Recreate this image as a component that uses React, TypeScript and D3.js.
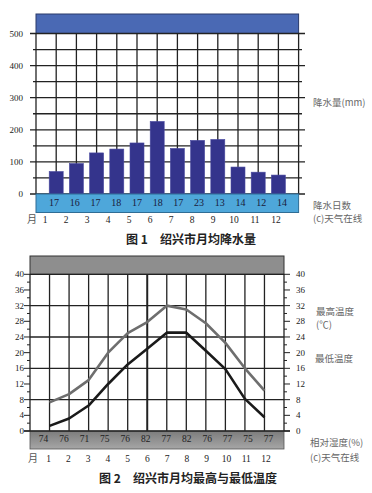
import React from "react";
import * as d3 from "d3";

// 图1 降水
const months = [1, 2, 3, 4, 5, 6, 7, 8, 9, 10, 11, 12];
const rainMM = [70, 95, 128, 140, 159, 226, 142, 167, 170, 84, 68, 59];
const rainDays = [17, 16, 17, 18, 17, 18, 17, 23, 13, 14, 12, 14];
const rainTicks = [0, 100, 200, 300, 400, 500];

// 图2 温度
const tempHigh = [7.3, 9.4, 13, 20, 25, 27.8, 32, 31, 27.5, 22.5, 16, 10.3];
const tempLow = [1.3, 3.2, 6.5, 12, 17, 21, 25.1, 25.1, 20.5, 15.8, 8.2, 3.5];
const humidity = [74, 76, 71, 75, 76, 82, 77, 82, 76, 77, 75, 77];
const tempTicks = [0, 4, 8, 12, 16, 20, 24, 28, 32, 36, 40];

const serif = "'Liberation Serif', 'DejaVu Serif', serif";
const cjk = "'Noto Sans CJK SC', sans-serif";

const App = () => {
  // chart 1 scales
  const x1 = d3.scaleLinear().domain([0, 13]).range([36, 298.6]);
  const y1 = d3.scaleLinear().domain([0, 500]).range([194, 33.5]);
  const dayX = d3.scaleLinear().domain([1, 12]).range([54, 282]);
  const mon1X = d3.scaleLinear().domain([1, 12]).range([45, 276]);
  const grid1 = d3.range(0, 501, 50);

  // chart 2 scales
  const x2 = d3.scaleLinear().domain([0, 13]).range([30, 284]);
  const y2 = d3.scaleLinear().domain([0, 40]).range([431, 274.3]);
  const humX = d3.scaleLinear().domain([1, 12]).range([43.5, 268.5]);
  const mon2X = d3.scaleLinear().domain([1, 12]).range([48.5, 266]);
  const minor2 = d3.range(0, 41, 2);

  const line = d3
    .line<number>()
    .x((_, i) => x2(i + 1))
    .y((d) => y2(d));

  return (
    <svg
      width={372}
      height={493}
      style={{ position: "absolute", left: 0, top: 0, background: "#fff" }}
    >
      {/* ---------- 图1 ---------- */}
      <rect x={x1(0)} y={14} width={x1(13) - x1(0)} height={y1(500) - 14} fill="#4a69b4" stroke="#2a3a6a" strokeWidth={1} />
      {grid1.map((v) => (
        <line
          key={"h" + v}
          x1={v % 100 === 0 ? 30 : 33}
          x2={v % 100 === 0 ? 305 : 302}
          y1={y1(v)}
          y2={y1(v)}
          stroke="#222"
          strokeWidth={1.3}
        />
      ))}
      {d3.range(0, 14).map((k) => (
        <line key={"v" + k} x1={x1(k)} x2={x1(k)} y1={y1(500)} y2={y1(0)} stroke="#222" strokeWidth={1.3} />
      ))}
      {rainMM.map((v, i) => (
        <rect
          key={"b" + i}
          x={x1(i + 1) - 7}
          y={y1(v)}
          width={14}
          height={y1(0) - y1(v)}
          fill="#34348c"
          stroke="#4a4aa0"
          strokeWidth={0.6}
        />
      ))}
      <rect x={x1(0)} y={y1(0)} width={x1(13) - x1(0)} height={18.5} fill="#4ea7da" stroke="#2f6d95" strokeWidth={1} />
      {rainDays.map((d, i) => (
        <text key={"d" + i} x={dayX(i + 1)} y={206} fontSize={10} fontFamily={serif} textAnchor="middle" fill="#1a1a3a">
          {d}
        </text>
      ))}
      {rainTicks.map((v) => (
        <text key={"t" + v} x={23} y={y1(v) + 3} fontSize={9} fontFamily={serif} textAnchor="end" fill="#222">
          {v}
        </text>
      ))}
      <text x={32} y={223} fontSize={10} fontFamily={cjk} textAnchor="middle" fill="#555">月</text>
      {months.map((m) => (
        <text key={"m1" + m} x={mon1X(m)} y={223} fontSize={9.5} fontFamily={serif} textAnchor="middle" fill="#222">
          {m}
        </text>
      ))}
      <text x={313} y={106} fontSize={9.5} fontFamily={cjk} fill="#666">降水量(mm)</text>
      <text x={313} y={209} fontSize={9.5} fontFamily={cjk} fill="#666">降水日数</text>
      <text x={313} y={221.5} fontSize={9.5} fontFamily={cjk} fill="#666">(c)天气在线</text>
      <text x={191} y={243.5} fontSize={12} fontWeight="bold" fontFamily={cjk} textAnchor="middle" fill="#222">
        图 1　绍兴市月均降水量
      </text>

      {/* ---------- 图2 ---------- */}
      <defs>
        <linearGradient id="humG" x1="0" y1="0" x2="0" y2="1">
          <stop offset="0%" stopColor="#7c7c7c" />
          <stop offset="100%" stopColor="#a6a6a6" />
        </linearGradient>
      </defs>
      <rect x={x2(0)} y={256} width={x2(13) - x2(0)} height={y2(40) - 256} fill="#8e8e8e" stroke="#333" strokeWidth={1} />
      {[8, 16, 24, 32, 40].map((v) => (
        <line key={"h2" + v} x1={x2(0)} x2={x2(13)} y1={y2(v)} y2={y2(v)} stroke="#222" strokeWidth={1.3} />
      ))}
      {d3.range(0, 14).map((k) => (
        <line
          key={"v2" + k}
          x1={x2(k)}
          x2={x2(k)}
          y1={y2(40)}
          y2={y2(0)}
          stroke="#222"
          strokeWidth={k === 6 ? 2 : 1.3}
        />
      ))}
      {minor2.map((v) => (
        <g key={"mt" + v}>
          <line x1={x2(0) - (v % 4 === 0 ? 6 : 3)} x2={x2(0)} y1={y2(v)} y2={y2(v)} stroke="#222" strokeWidth={1} />
          <line x1={x2(13)} x2={x2(13) + (v % 4 === 0 ? 6 : 3)} y1={y2(v)} y2={y2(v)} stroke="#222" strokeWidth={1} />
        </g>
      ))}
      {tempTicks.map((v) => (
        <g key={"tt" + v}>
          <text x={24} y={y2(v) + 3} fontSize={9} fontFamily={serif} textAnchor="end" fill="#222">{v}</text>
          <text x={296} y={y2(v) + 3} fontSize={9} fontFamily={serif} fill="#222">{v}</text>
        </g>
      ))}
      <path d={line(tempHigh) ?? ""} fill="none" stroke="#6e6e6e" strokeWidth={2.6} strokeLinejoin="round" />
      <path d={line(tempLow) ?? ""} fill="none" stroke="#1a1a1a" strokeWidth={2.6} strokeLinejoin="round" />
      <rect x={x2(0)} y={y2(0)} width={x2(13) - x2(0)} height={18} fill="url(#humG)" stroke="#555" strokeWidth={0.8} />
      <line x1={24} x2={290} y1={y2(0)} y2={y2(0)} stroke="#222" strokeWidth={1.5} />
      {humidity.map((h, i) => (
        <text key={"hu" + i} x={humX(i + 1)} y={441.5} fontSize={9.5} fontFamily={serif} textAnchor="middle" fill="#222">
          {h}
        </text>
      ))}
      <text x={33} y={461.5} fontSize={10} fontFamily={cjk} textAnchor="middle" fill="#555">月</text>
      {months.map((m) => (
        <text key={"m2" + m} x={mon2X(m)} y={461.5} fontSize={9.5} fontFamily={serif} textAnchor="middle" fill="#222">
          {m}
        </text>
      ))}
      <text x={316} y={315} fontSize={9.5} fontFamily={cjk} fill="#666">最高温度</text>
      <text x={316} y={328} fontSize={9.5} fontFamily={cjk} fill="#666">(℃)</text>
      <text x={315} y={361.5} fontSize={9.5} fontFamily={cjk} fill="#666">最低温度</text>
      <text x={310} y={446} fontSize={9.5} fontFamily={cjk} fill="#666">相对湿度(%)</text>
      <text x={310} y={460.5} fontSize={9.5} fontFamily={cjk} fill="#666">(c)天气在线</text>
      <text x={188} y={482.5} fontSize={12} fontWeight="bold" fontFamily={cjk} textAnchor="middle" fill="#222">
        图 2　绍兴市月均最高与最低温度
      </text>
    </svg>
  );
};

export default App;
